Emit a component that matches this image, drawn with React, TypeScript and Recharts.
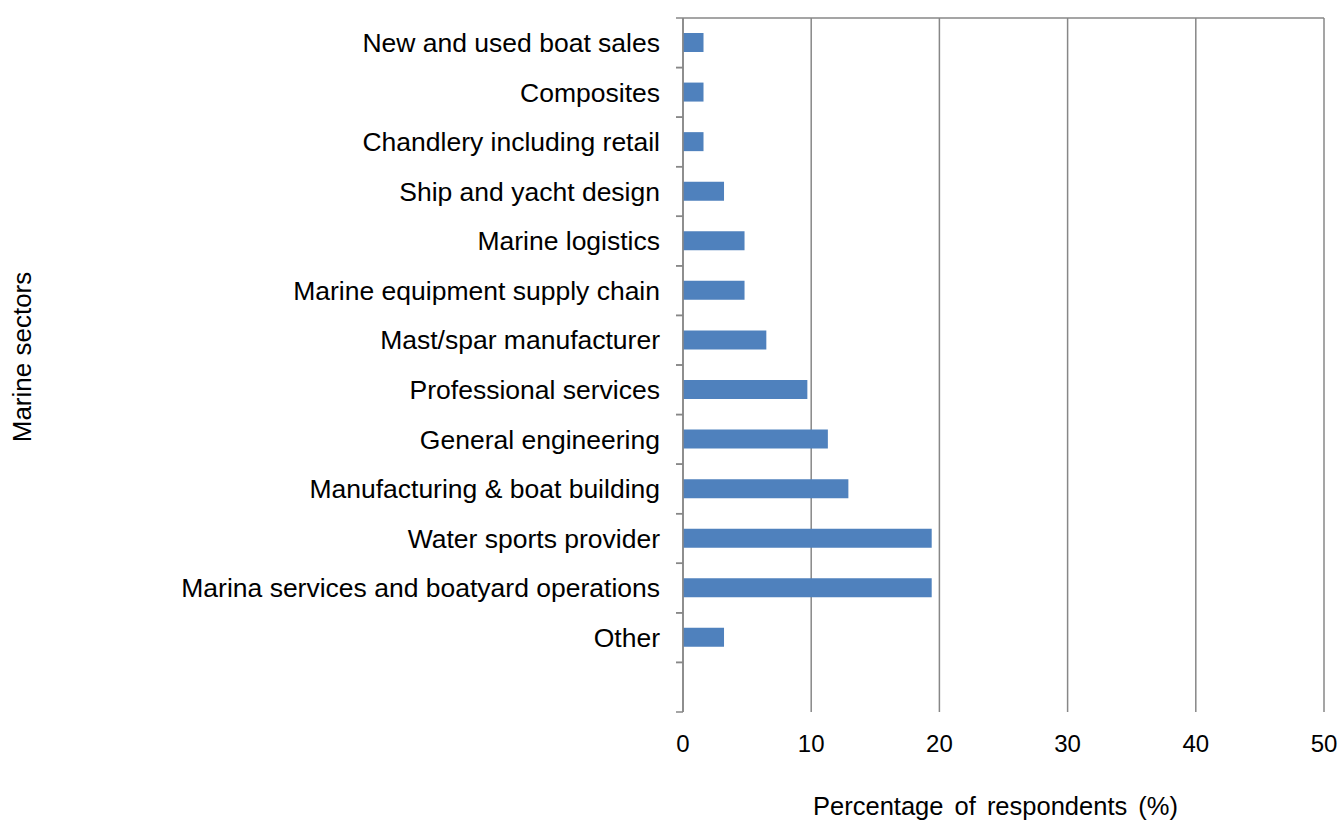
import { BarChart, Bar, XAxis, YAxis, CartesianGrid } from "recharts";

const sectors = [
  "New and used boat sales",
  "Composites",
  "Chandlery including retail",
  "Ship and yacht design",
  "Marine logistics",
  "Marine equipment supply chain",
  "Mast/spar manufacturer",
  "Professional services",
  "General engineering",
  "Manufacturing & boat building",
  "Water sports provider",
  "Marina services and boatyard operations",
  "Other",
  "",
];

const percentages = [1.6, 1.6, 1.6, 3.2, 4.8, 4.8, 6.5, 9.7, 11.3, 12.9, 19.4, 19.4, 3.2, null];

const xTicks = [0, 10, 20, 30, 40, 50];

const data = sectors.map((name, i) => ({ name, value: percentages[i] }));

const AXIS = "#878787";
const FONT = "'Liberation Sans', Arial, sans-serif";

function SectorTick(props: any) {
  const { x, y, payload } = props;
  const half = payload?.offset ?? 24.8;
  return (
    <g>
      <line x1={x - 7} x2={x} y1={y - half} y2={y - half} stroke={AXIS} strokeWidth={1.5} />
      <line x1={x - 7} x2={x} y1={y + half} y2={y + half} stroke={AXIS} strokeWidth={1.5} />
      {payload.value ? (
        <text x={x - 23} y={y} dy="0.35em" textAnchor="end" fill="#000" fontSize={26.5} fontFamily={FONT}>
          {payload.value}
        </text>
      ) : null}
    </g>
  );
}

export default function App() {
  // absolute so the body's bottom margin does not add a scrollbar
  return (
    <div style={{ position: "absolute", left: 8, top: 8, width: 1333, height: 814 }}>
      <BarChart
        width={1333}
        height={814}
        data={data}
        layout="vertical"
        margin={{ top: 0, right: 17, bottom: 0, left: 0 }}
        barCategoryGap={0}
      >
        <CartesianGrid horizontal={false} stroke={AXIS} strokeWidth={1.5} />
        <XAxis
          type="number"
          orientation="bottom"
          domain={[0, 50]}
          ticks={xTicks}
          height={110}
          axisLine={false}
          tickLine={false}
          tickSize={6}
          tickMargin={17}
          tick={{ fill: "#000", fontSize: 24, fontFamily: FONT }}
          label={({ viewBox }: any) => (
            <text
              x={viewBox.x + viewBox.width / 2 - 8}
              y={798}
              dy="0.35em"
              textAnchor="middle"
              fill="#000"
              fontSize={25.5}
              fontFamily={FONT}
              style={{ wordSpacing: 4 }}
            >
              Percentage of respondents (%)
            </text>
          )}
        />
        <XAxis
          xAxisId="t"
          type="number"
          orientation="top"
          domain={[0, 50]}
          ticks={xTicks}
          height={10}
          tickSize={8}
          tick={() => <g />}
          stroke={AXIS}
          strokeWidth={1.5}
          tickLine={{ stroke: AXIS, strokeWidth: 1.5 }}
        />
        <YAxis
          type="category"
          dataKey="name"
          width={675}
          tickSize={0}
          tickMargin={0}
          tickLine={false}
          interval={0}
          stroke={AXIS}
          strokeWidth={1.5}
          tick={<SectorTick />}
          label={() => (
            <text
              x={14}
              y={349}
              dy="0.35em"
              textAnchor="middle"
              transform="rotate(-90, 14, 349)"
              fill="#000"
              fontSize={26}
              fontFamily={FONT}
            >
              Marine sectors
            </text>
          )}
        />
        <Bar dataKey="value" fill="#4F81BD" barSize={19} isAnimationActive={false} />
      </BarChart>
    </div>
  );
}
